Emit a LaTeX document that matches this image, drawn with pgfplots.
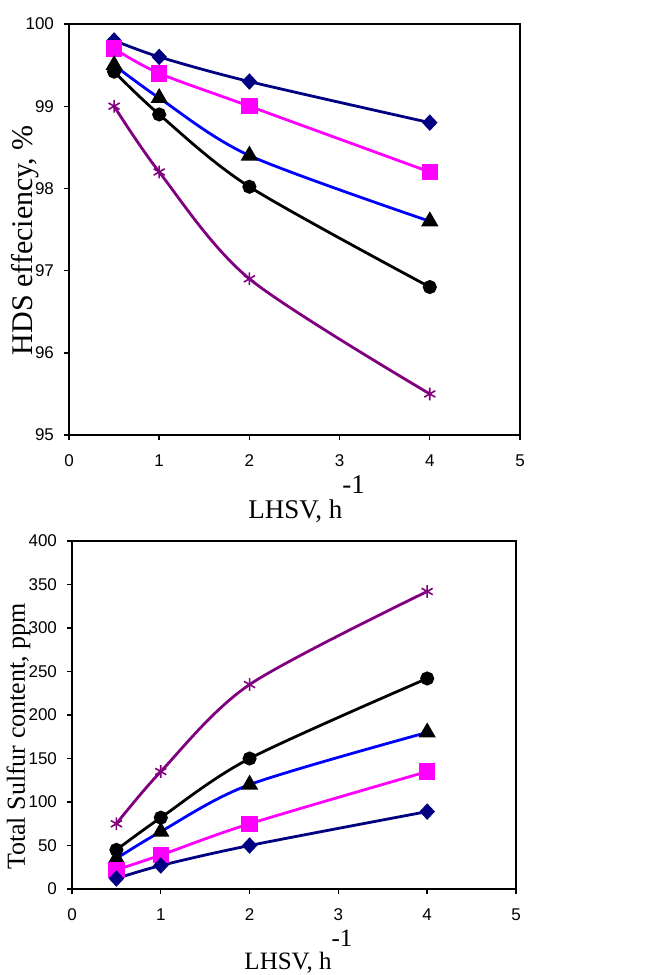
\documentclass[border=0pt]{standalone}
\usepackage{pgfplots}
\pgfplotsset{compat=1.18}
\usepackage{fontspec}
\setmainfont{Liberation Serif}
\setsansfont{Liberation Sans}

\definecolor{cNavy}{HTML}{000080}
\definecolor{cMag}{HTML}{FF00FF}
\definecolor{cBlue}{HTML}{0000FF}
\definecolor{cPurp}{HTML}{800080}

\pgfplotsset{
  lhsv/.style={
    scale only axis,
    axis line style={line width=0.8pt},
    tick align=outside, xtick pos=bottom, ytick pos=left,
    major tick length=2.5pt, tick style={black, line width=0.7pt},
    xmin=0, xmax=5, xtick={0,1,2,3,4,5},
    ticklabel style={font=\sffamily\fontsize{8.5}{9}\selectfont},
    /pgf/number format/assume math mode=true,
    xticklabel style={yshift=-4pt},
    yticklabel style={xshift=-1.5pt},
    every axis plot/.append style={smooth, tension=0.5, line width=1.4pt},
  },
  sNavy/.style={color=cNavy, mark=diamond*, mark size=3.1pt, mark options={fill=cNavy, xscale=1.25}},
  sMag/.style={color=cMag, mark=square*, mark size=3.4pt, mark options={fill=cMag}},
  sBlue/.style={color=cBlue, mark=triangle*, mark size=3.6pt, mark options={fill=black, draw=black}},
  sBlack/.style={color=black, mark=*, mark size=2.8pt, mark options={fill=black}},
  sPurp/.style={color=cPurp, mark=asterisk, mark size=3.2pt, mark options={line width=0.8pt}},
}

\begin{document}
\begin{tikzpicture}
\path[use as bounding box] (0,0) rectangle (325.5pt,-487.5pt);

% HDS efficiency
\begin{axis}[lhsv,
  at={(34.5pt,-217.5pt)}, anchor=south west,
  width=225.5pt, height=205.5pt,
  ymin=95, ymax=100, ytick={95,96,97,98,99,100},
  ylabel={HDS effeciency, \%},
  ylabel style={at={(axis description cs:-0.08,0.474)}, anchor=base, font=\fontsize{15}{16}\selectfont},
  xlabel={LHSV, h\raisebox{12.5pt}{-1}},
  xlabel style={at={(axis description cs:0.527,-0.202)}, anchor=base, font=\fontsize{13.5}{14}\selectfont},
]
\addplot[sNavy] coordinates {(0.5,99.8)(1,99.6)(2,99.3)(4,98.8)};
\addplot[sMag] coordinates {(0.5,99.7)(1,99.4)(2,99.0)(4,98.2)};
\addplot[sBlue] coordinates {(0.5,99.5)(1,99.1)(2,98.4)(4,97.6)};
\addplot[sBlack] coordinates {(0.5,99.42)(1,98.9)(2,98.02)(4,96.8)};
\addplot[sPurp] coordinates {(0.5,99.0)(1,98.2)(2,96.9)(4,95.5)};
\end{axis}

% total sulfur
\begin{axis}[lhsv,
  at={(36pt,-444.5pt)}, anchor=south west,
  width=222pt, height=174pt,
  ymin=0, ymax=400, ytick={0,50,...,400},
  ylabel={Total Sulfur content, ppm},
  ylabel style={at={(axis description cs:-0.106,0.438)}, anchor=base, font=\fontsize{13}{14}\selectfont},
  xlabel={LHSV, h\raisebox{11.5pt}{-1}},
  xlabel style={at={(axis description cs:0.51,-0.231)}, anchor=base, font=\fontsize{12.5}{13}\selectfont},
]
\addplot[sPurp] coordinates {(0.5,75)(1,135)(2,235)(4,342)};
\addplot[sBlack] coordinates {(0.5,45)(1,82)(2,150)(4,242)};
\addplot[sBlue] coordinates {(0.5,35)(1,66)(2,120)(4,180)};
\addplot[sMag] coordinates {(0.5,22)(1,39)(2,75)(4,135)};
\addplot[sNavy] coordinates {(0.5,12)(1,27)(2,50)(4,89)};
\end{axis}
\end{tikzpicture}
\end{document}
